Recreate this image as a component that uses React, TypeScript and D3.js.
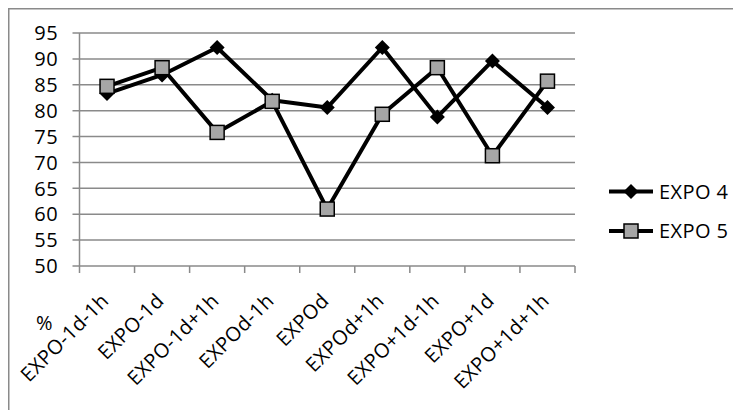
import React from "react";
import * as d3 from "d3";

const categories = [
  "EXPO-1d-1h",
  "EXPO-1d",
  "EXPO-1d+1h",
  "EXPOd-1h",
  "EXPOd",
  "EXPOd+1h",
  "EXPO+1d-1h",
  "EXPO+1d",
  "EXPO+1d+1h",
];
const expo4 = [83.3, 86.9, 92.2, 82.0, 80.6, 92.2, 78.8, 89.6, 80.6];
const expo5 = [84.7, 88.3, 75.8, 81.8, 61.0, 79.3, 88.3, 71.3, 85.7];
const yTicks = [50, 55, 60, 65, 70, 75, 80, 85, 90, 95];
const seriesNames = ["EXPO 4", "EXPO 5"];

const W = 733;
const H = 410;
const plot = { left: 79.5, right: 575, top: 33, bottom: 266 };
const FONT = "'Open Sans', sans-serif";
const FS = 20;
const LS = 0.4;
const GRID = "#8a8a8a";

export default function App() {
  const x = d3
    .scaleBand<string>()
    .domain(categories)
    .range([plot.left, plot.right]);
  const y = d3.scaleLinear().domain([50, 95]).range([plot.bottom, plot.top]);
  const cx = (c: string) => (x(c) as number) + x.bandwidth() / 2;

  const line = d3
    .line<number>()
    .x((_, i) => cx(categories[i]))
    .y((v) => y(v));

  const diamond = (px: number, py: number, r = 7.5) =>
    `M${px},${py - r}L${px + r},${py}L${px},${py + r}L${px - r},${py}Z`;

  const tickXs = [...categories.map((c) => x(c) as number), plot.right];

  return (
    <svg
      width={W}
      height={H}
      style={{ position: "absolute", left: 0, top: 0, background: "#fff" }}
      fontFamily={FONT}
      letterSpacing={LS}
    >
      {/* chart frame */}
      <rect
        x={8.75}
        y={8.75}
        width={W + 20}
        height={H + 20}
        fill="none"
        stroke={GRID}
        strokeWidth={1.5}
      />

      {/* gridlines and y ticks */}
      {yTicks.map((t) => (
        <g key={t}>
          <line
            x1={plot.left - 7}
            x2={plot.right}
            y1={y(t)}
            y2={y(t)}
            stroke={GRID}
            strokeWidth={1.5}
          />
          <text
            x={58}
            y={y(t)}
            dy="0.36em"
            textAnchor="end"
            fontSize={FS}
            fill="#000"
          >
            {t}
          </text>
        </g>
      ))}

      {/* y axis */}
      <line
        x1={plot.left}
        x2={plot.left}
        y1={plot.top}
        y2={plot.bottom}
        stroke={GRID}
        strokeWidth={1.5}
      />

      {/* x ticks */}
      {tickXs.map((tx, i) => (
        <line
          key={i}
          x1={tx}
          x2={tx}
          y1={plot.bottom}
          y2={plot.bottom + 7}
          stroke={GRID}
          strokeWidth={1.5}
        />
      ))}

      {/* x labels */}
      {categories.map((c) => (
        <text
          key={c}
          transform={`translate(${cx(c) + 3},${plot.bottom + 36}) rotate(-45)`}
          textAnchor="end"
          fontSize={FS}
          fill="#000"
        >
          {c}
        </text>
      ))}

      <text x={36} y={330} fontSize={FS} fill="#000">
        %
      </text>

      {/* EXPO 4 */}
      <path
        d={line(expo4) ?? ""}
        fill="none"
        stroke="#000"
        strokeWidth={4}
        strokeLinejoin="round"
      />
      {expo4.map((v, i) => (
        <path key={i} d={diamond(cx(categories[i]), y(v))} fill="#000" />
      ))}

      {/* EXPO 5 */}
      <path
        d={line(expo5) ?? ""}
        fill="none"
        stroke="#000"
        strokeWidth={4}
        strokeLinejoin="round"
      />
      {expo5.map((v, i) => (
        <rect
          key={i}
          x={cx(categories[i]) - 7}
          y={y(v) - 7}
          width={14}
          height={14}
          fill="#a6a6a6"
          stroke="#000"
          strokeWidth={1.5}
        />
      ))}

      {/* legend */}
      {seriesNames.map((name, i) => {
        const ly = 191.5 + i * 39.5;
        return (
          <g key={name}>
            <line
              x1={609}
              x2={653}
              y1={ly}
              y2={ly}
              stroke="#000"
              strokeWidth={4}
            />
            {i === 0 ? (
              <path d={diamond(631, ly)} fill="#000" />
            ) : (
              <rect
                x={624}
                y={ly - 7}
                width={14}
                height={14}
                fill="#a6a6a6"
                stroke="#000"
                strokeWidth={1.5}
              />
            )}
            <text x={659} y={ly} dy="0.36em" fontSize={FS} fill="#000">
              {name}
            </text>
          </g>
        );
      })}
    </svg>
  );
}
